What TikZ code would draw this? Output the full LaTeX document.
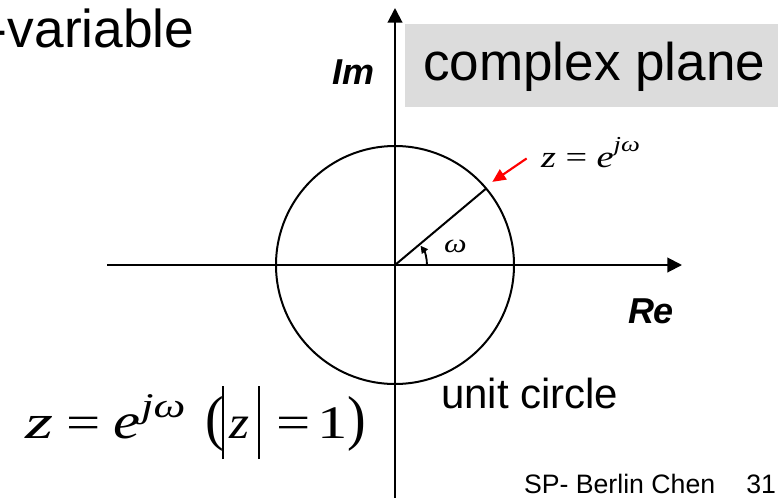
\documentclass[tikz,border=0pt]{standalone}
\usepackage{fontspec}
\usepackage{graphicx}
\setmainfont{Liberation Sans}
\newfontfamily\tms{Liberation Serif}
\usetikzlibrary{arrows.meta}
\definecolor{boxgray}{HTML}{DCDCDC}
\definecolor{arrred}{HTML}{FF0000}
\newcommand{\fsz}[1]{\fontsize{#1}{#1}\selectfont}
\begin{document}
\begin{tikzpicture}[x=0.75pt,y=-0.75pt,line width=1.5pt,
  axis/.style={-{Triangle[length=11pt,width=11pt]}},
  lbl/.style={inner sep=0pt,anchor=base west},
  sans/.style={font=\fsz{#1}},
  sansbi/.style={font=\fsz{#1}\bfseries\itshape},
  serif/.style={font=\tms\fsz{#1}}]
\useasboundingbox (0,0) rectangle (778,497);
% grey title box
\fill[boxgray] (405,24) rectangle (790,107);
\node[lbl,sans=39.8] (cp) at (422,80) {complex plane};
% clipped title
\node[lbl,sans=40] (var) at (-11,47) {-variable};
% axes
\coordinate (O) at (395,265);
\coordinate (xl) at (107,265);
\coordinate (xr) at (682,265);
\coordinate (yb) at (395,505);
\coordinate (yt) at (395,8);
\draw[axis] (xl) -- (xr);
\draw[axis] (yb) -- (yt);
\node[lbl,sansbi=27] (im) at (331,84) {Im};
\node[lbl,sansbi=27] (re) at (627,323) {Re};
% unit circle
\draw (O) circle[radius=119];
\path (O) ++(-40:119) coordinate (P);
\draw (O) -- (P);
\path (O) ++(-40.5:128) coordinate (tip);
% angle
\draw[line width=1.4pt,-{Triangle[length=5.5pt,width=5.5pt]}] (O) ++(32,0) arc[start angle=0,end angle=-37,radius=32];
\node[lbl,serif=20] (w) at (443,252) {\scalebox{1.2}[1]{\itshape ω}};
% red arrow and label
\node[lbl,serif=23] (zl) at (540,167) {\scalebox{1.25}[1]{\itshape z\hspace{0.25em}\upshape=\hspace{0.25em}\itshape e\raisebox{0.5em}{\fsz{16}jω}}};
\draw[arrred,line width=1.6pt,-{Triangle[length=10pt,width=9pt]}] ([xshift=-10pt,yshift=-4.5pt]zl.west) -- (tip);
% labels
\node[lbl,sans=31.5] (uc) at (440,408) {unit circle};
% formula z = e^{jw} (|z| = 1)
\node[lbl,serif=36] (f1) at (25,438) {\scalebox{1.5}[1]{\itshape z}};
\node[lbl,serif=35] (f2) at (65,438) {\scalebox{1.3}[1]{=}};
\node[lbl,serif=38] (f3) at (112,438) {\scalebox{1.2}[1]{\itshape e}};
\node[lbl,serif=26] (f4) at (140,417) {\scalebox{1.3}[1]{\itshape jω}};
\node[lbl,serif=35] (f5) at (204,438) {\scalebox{1.2}[1.3]{(}};
\node[inner sep=0pt,anchor=south west] (f6) at (221,460) {\rule{1.6pt}{54.75pt}};
\node[lbl,serif=35] (f7) at (228,438) {\scalebox{1.1}[1]{\itshape z}};
\node[inner sep=0pt,anchor=south west] (f8) at (257,460) {\rule{1.6pt}{54.75pt}};
\node[lbl,serif=35] (f9) at (275,438) {\scalebox{1.3}[1]{=}};
\node[lbl,serif=35] (f10) at (316,438) {\scalebox{1.3}[1]{1}};
\node[lbl,serif=35] (f11) at (346,438) {\scalebox{1.2}[1.3]{)}};
% footer
\node[lbl,sans=20] (sp) at (523,493) {SP- Berlin Chen};
\node[inner sep=0pt,anchor=base east,sans=20] (pg) at (777,493) {31};
\end{tikzpicture}
\end{document}
